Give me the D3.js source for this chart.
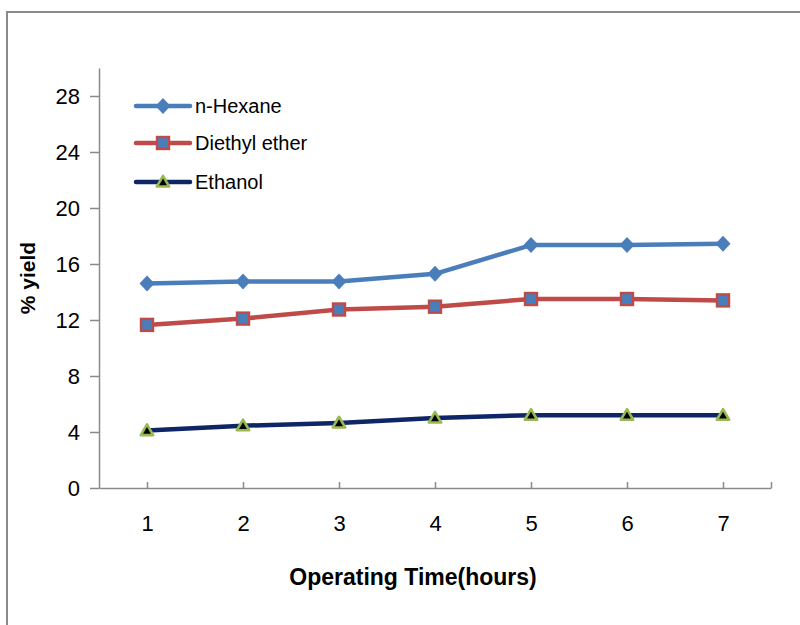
<!DOCTYPE html>
<html>
<head>
<meta charset="utf-8">
<script src="https://cdn.jsdelivr.net/npm/d3@7"></script>
<style>
  body { margin: 0; background: #fff; }
  text { font-family: "Liberation Sans", Arial, sans-serif; fill: #000; }
</style>
</head>
<body>
<div id="container"></div>
<script>
/* DATA */
const hours = [1, 2, 3, 4, 5, 6, 7];
const hexane = [14.6, 14.75, 14.75, 15.3, 17.35, 17.35, 17.45];
const diethylEther = [11.65, 12.1, 12.75, 12.95, 13.5, 13.5, 13.4];
const ethanol = [4.1, 4.45, 4.65, 5.0, 5.2, 5.2, 5.2];
const yTicks = [0, 4, 8, 12, 16, 20, 24, 28];
const seriesNames = ["n-Hexane", "Diethyl ether", "Ethanol"];

/* CONSTANTS */
const width = 800, height = 625;
const margin = { top: 68, left: 99, right: 29, bottom: 137 };

const series = [
  { name: seriesNames[0], values: hexane, line: "#4A7EBB", marker: "diamond", fill: "#4A7EBB", stroke: "#4A7EBB" },
  { name: seriesNames[1], values: diethylEther, line: "#BE4B48", marker: "square", fill: "#4A7EBB", stroke: "#BE4B48" },
  { name: seriesNames[2], values: ethanol, line: "#0E2566", marker: "triangle", fill: "#000000", stroke: "#98B954" }
];

const svg = d3.select("#container")
  .append("svg")
  .attr("width", width)
  .attr("height", height);

// outer frame
svg.append("rect")
  .attr("x", 7).attr("y", 12)
  .attr("width", 900).attr("height", 800)
  .attr("fill", "none")
  .attr("stroke", "#8a8a8a")
  .attr("stroke-width", 2);

/* SCALES */
const xScale = d3.scaleLinear()
  .domain([0.5, 7.5])
  .range([margin.left, width - margin.right]);

const yScale = d3.scaleLinear()
  .domain([0, 30])
  .range([height - margin.bottom, margin.top]);

/* AXES */
const yAxis = svg.append("g")
  .attr("transform", `translate(${margin.left},0)`)
  .call(d3.axisLeft(yScale).tickValues(yTicks).tickSizeInner(9).tickSizeOuter(0).tickPadding(10));
yAxis.select(".domain").attr("stroke", "#8a8a8a").attr("stroke-width", 1.5);
yAxis.selectAll(".tick line").attr("stroke", "#8a8a8a").attr("stroke-width", 1.5);
yAxis.selectAll(".tick text").style("font-size", "22px").attr("dy", "0.36em");

const xAxis = svg.append("g")
  .attr("transform", `translate(0,${height - margin.bottom})`)
  .call(d3.axisBottom(xScale)
    .tickValues(hours.concat([7.5]))
    .tickFormat(d => hours.includes(d) ? d : "")
    .tickSizeInner(-6).tickSizeOuter(0).tickPadding(27));
xAxis.select(".domain").attr("stroke", "#8a8a8a").attr("stroke-width", 1.5);
xAxis.selectAll(".tick line").attr("stroke", "#8a8a8a").attr("stroke-width", 1.5);
xAxis.selectAll(".tick text").style("font-size", "22px");

// axis titles
svg.append("text")
  .attr("x", 413).attr("y", 585)
  .attr("text-anchor", "middle")
  .style("font-size", "23px")
  .style("font-weight", "bold")
  .text("Operating Time(hours)");

svg.append("text")
  .attr("transform", "translate(35,278) rotate(-90)")
  .attr("text-anchor", "middle")
  .style("font-size", "21px")
  .style("font-weight", "bold")
  .text("% yield");

/* MARKERS */
function drawMarker(g, s, cx, cy) {
  if (s.marker === "diamond") {
    g.append("path")
      .attr("d", `M${cx},${cy - 8}L${cx + 7.5},${cy}L${cx},${cy + 8}L${cx - 7.5},${cy}Z`)
      .attr("fill", s.fill);
  } else if (s.marker === "square") {
    g.append("rect")
      .attr("x", cx - 6).attr("y", cy - 6)
      .attr("width", 12).attr("height", 12)
      .attr("fill", s.fill)
      .attr("stroke", s.stroke)
      .attr("stroke-width", 2.4);
  } else {
    g.append("path")
      .attr("d", d3.symbol(d3.symbolTriangle, 66)())
      .attr("transform", `translate(${cx},${cy + 1})`)
      .attr("fill", s.fill)
      .attr("stroke", s.stroke)
      .attr("stroke-width", 2.6)
      .attr("stroke-linejoin", "round");
  }
}

/* LINES */
const line = d3.line()
  .x((d, i) => xScale(hours[i]))
  .y(d => yScale(d));

series.forEach(s => {
  const g = svg.append("g");
  g.append("path")
    .datum(s.values)
    .attr("d", line)
    .attr("fill", "none")
    .attr("stroke", s.line)
    .attr("stroke-width", 4.5)
    .attr("stroke-linejoin", "round");
  s.values.forEach((v, i) => drawMarker(g, s, xScale(hours[i]), yScale(v)));
});

/* LEGEND */
const legend = svg.append("g");
series.forEach((s, i) => {
  const ly = [106, 143, 182][i];
  const g = legend.append("g");
  g.append("line")
    .attr("x1", 136).attr("x2", 190)
    .attr("y1", ly).attr("y2", ly)
    .attr("stroke", s.line)
    .attr("stroke-width", 4.5)
    .attr("stroke-linecap", "round");
  drawMarker(g, s, 163, ly);
  g.append("text")
    .attr("x", 195).attr("y", ly)
    .attr("dy", "0.36em")
    .style("font-size", "20px")
    .text(s.name);
});
</script>
</body>
</html>
